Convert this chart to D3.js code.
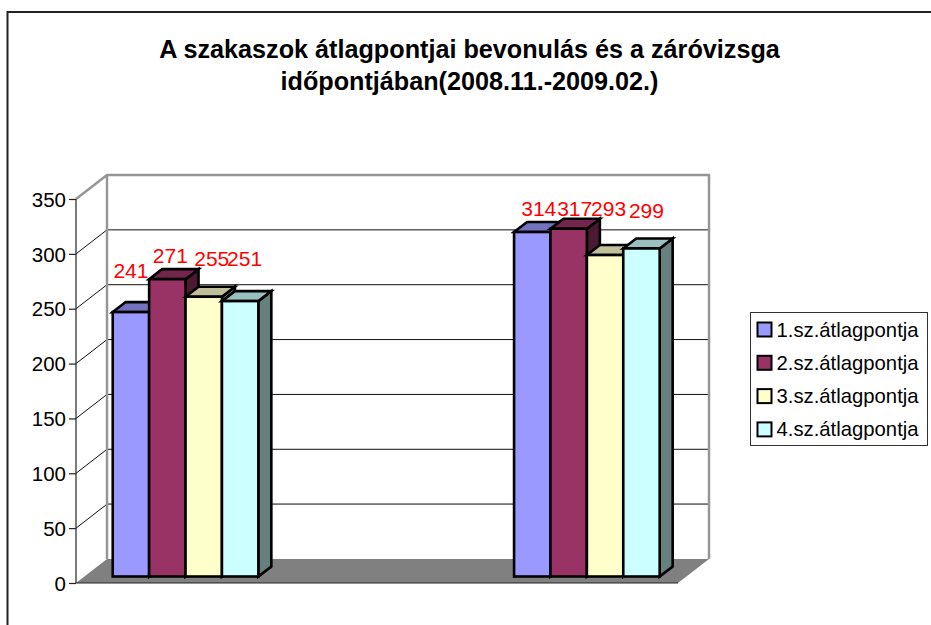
<!DOCTYPE html>
<html><head><meta charset="utf-8">
<script src="https://cdn.jsdelivr.net/npm/d3@7/dist/d3.min.js"></script>
<style>html,body{margin:0;padding:0;background:#fff}svg{display:block}text{font-family:"Liberation Sans",Arial,sans-serif}</style>
</head><body><svg id="c" width="931" height="625"></svg>
<script>
const titleLines = ["A szakaszok átlagpontjai bevonulás és a záróvizsga", "időpontjában(2008.11.-2009.02.)"];
const categories = ["bevonulás", "", "záróvizsga"];
const seriesNames = ["1.sz.átlagpontja", "2.sz.átlagpontja", "3.sz.átlagpontja", "4.sz.átlagpontja"];
const series1 = [241, null, 314];
const series2 = [271, null, 317];
const series3 = [255, null, 293];
const series4 = [251, null, 299];
const allSeries = [series1, series2, series3, series4];
const frontColors = ["#9999ff", "#993366", "#ffffcc", "#ccffff"];
const topColors = ["#7272bf", "#72264c", "#bfbf99", "#99bfbf"];
const sideColors = ["#4c4c7f", "#4c1933", "#7f7f66", "#667f7f"];
const ticks = [0, 50, 100, 150, 200, 250, 300, 350];
// hand-placed label nudges [dx, dy above bar top], per series, per category
const labelNudge = [
  [[0, 34], null, [6.5, 16]],
  [[3, 16], null, [6, 12.7]],
  [[8, 31], null, [3.5, 39]],
  [[4.5, 35], null, [5, 30.5]]
];

const svg = d3.select("#c");
const X0 = 76, X1 = 678, DX = 31, DY = -24;
const y = d3.scaleLinear().domain([0, 350]).range([583, 199]);
const x = d3.scaleBand().domain(d3.range(categories.length)).range([X0, X1]);
const barW = 36.4, barDX = 13, barDY = -10, barOffX = 9.2, barOffY = -6.5;
const poly = p => p.map(d => d.join(",")).join(" ");

// frame
svg.append("path").attr("d", "M7.5,625V12H931").attr("fill", "none").attr("stroke", "#222").attr("stroke-width", 2);

// title
svg.append("g").selectAll("text").data(titleLines).join("text")
  .attr("x", 469.5).attr("y", (d, i) => 58 + i * 32).attr("text-anchor", "middle")
  .attr("font-size", 25.2).attr("font-weight", "bold").attr("fill", "#000").text(d => d);

// floor
svg.append("polygon").attr("points", poly([[X0, y(0)], [X0 + DX, y(0) + DY], [X1 + DX, y(0) + DY], [X1, y(0)]])).attr("fill", "#808080");

// grid
const gridT = ticks.filter(t => t > 0 && t < 350);
svg.append("g").selectAll("path").data(gridT).join("path")
  .attr("d", t => `M${X0},${y(t)}L${X0 + DX},${y(t) + DY}H${X1 + DX}`)
  .attr("fill", "none").attr("stroke", "#111").attr("stroke-width", 1);
svg.append("path").attr("d", `M${X0 + DX},${y(50) + DY}H${X1 + DX}`).attr("stroke", "#777").attr("stroke-width", 1.5);
svg.append("path").attr("d", `M${X0},${y(350)}L${X0 + DX},${y(350) + DY}H${X1 + DX}V${y(0) + DY}M${X0 + DX},${y(350) + DY}V${y(0) + DY}`)
  .attr("fill", "none").attr("stroke", "#969696").attr("stroke-width", 2.5);

// front axis
const axis = d3.axisLeft(y).tickValues(ticks).tickSize(7).tickPadding(3);
const gA = svg.append("g").attr("transform", `translate(${X0},0)`).call(axis);
gA.selectAll("line,path").attr("stroke", "#222").attr("stroke-width", 1.2);
gA.select("path").attr("d", `M0,${y(350)}V${y(0)}`);
gA.selectAll("text").attr("font-size", 20.5).attr("fill", "#000").attr("dy", "0.35em");
svg.append("line").attr("x1", X0).attr("x2", X1).attr("y1", y(0)).attr("y2", y(0)).attr("stroke", "#222").attr("stroke-width", 1.2);

// bars
const base = y(0) + barOffY;
const groups = categories.map((c, i) => i).filter(i => allSeries[0][i] != null);
groups.forEach(ci => {
  const cx = x(ci) + x.bandwidth() / 2 + barOffX;
  allSeries.forEach((s, si) => {
    const v = s[ci];
    const l = cx + (si - 2) * barW, r = l + barW, t = base - (y(0) - y(v));
    const g = svg.append("g").attr("stroke", "#000").attr("stroke-width", 2.6).attr("stroke-linejoin", "miter");
    g.append("polygon").attr("points", poly([[r, t], [r + barDX, t + barDY], [r + barDX, base + barDY], [r, base]])).attr("fill", sideColors[si]);
    g.append("polygon").attr("points", poly([[l, t], [l + barDX, t + barDY], [r + barDX, t + barDY], [r, t]])).attr("fill", topColors[si]);
    g.append("rect").attr("x", l).attr("y", t).attr("width", barW).attr("height", base - t).attr("fill", frontColors[si]);
  });
});

// value labels
groups.forEach(ci => {
  const cx = x(ci) + x.bandwidth() / 2 + barOffX;
  allSeries.forEach((s, si) => {
    const v = s[ci], n = labelNudge[si][ci];
    svg.append("text").attr("x", cx + (si - 2) * barW + barW / 2 + n[0]).attr("y", base - (y(0) - y(v)) - n[1])
      .attr("text-anchor", "middle").attr("font-size", 21).attr("fill", "#ff0000").text(v);
  });
});

// legend
const lg = svg.append("g");
lg.append("rect").attr("x", 750.5).attr("y", 312.5).attr("width", 177).attr("height", 133).attr("fill", "#fff").attr("stroke", "#333").attr("stroke-width", 1);
const items = lg.selectAll("g").data(seriesNames).join("g").attr("transform", (d, i) => `translate(0,${329.5 + i * 33.3})`);
items.append("rect").attr("x", 757.5).attr("y", -7).attr("width", 14).attr("height", 14).attr("fill", (d, i) => frontColors[i]).attr("stroke", "#000").attr("stroke-width", 2);
items.append("text").attr("x", 776.5).attr("y", 7).attr("font-size", 20.3).attr("fill", "#000").text(d => d);
</script></body></html>
